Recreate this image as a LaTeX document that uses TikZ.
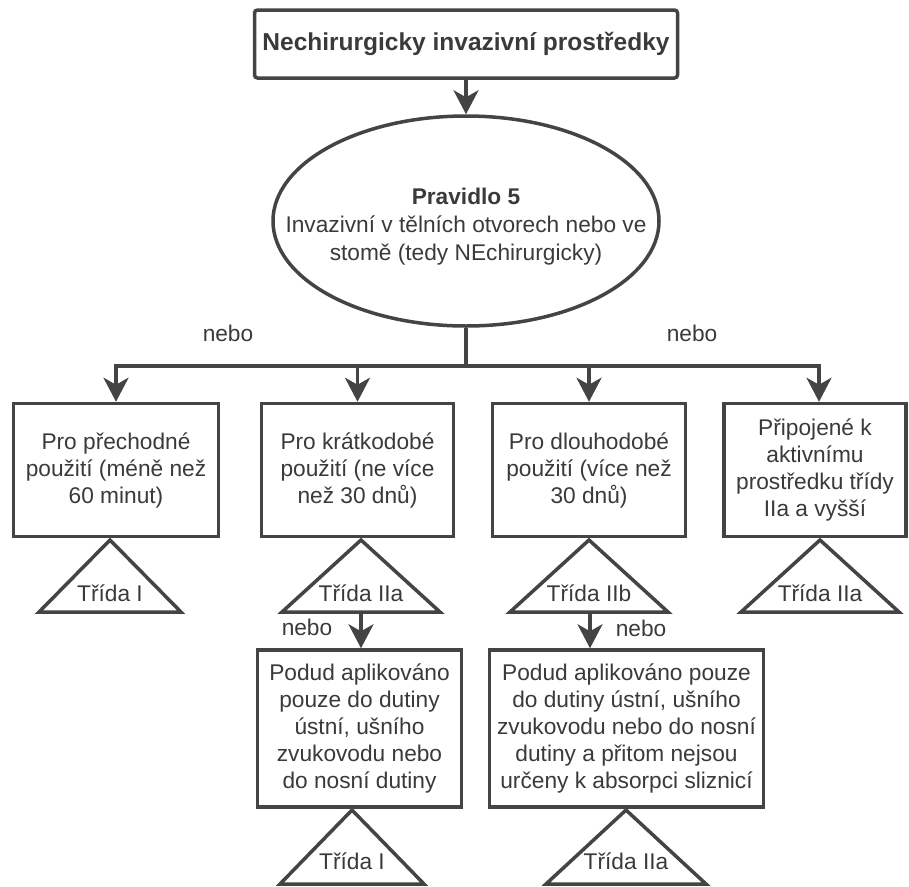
\documentclass[tikz,border=0pt]{standalone}
\usepackage{fontspec}
\setmainfont{Liberation Sans}
\usetikzlibrary{arrows.meta,shapes.geometric}
\definecolor{ink}{HTML}{444444}
\definecolor{txt}{HTML}{3A3A3A}
% name, apex x, apex y, half base, height, label drop above base, text
\newcommand\classtri[7]{%
  \path[trishape] (#2,#3) -- (#2+#4,#3+#5) -- (#2-#4,#3+#5) -- cycle;
  \coordinate (#1-base) at (#2,#3+#5);
  \node[lbl] (#1) at (#2,#3+#5-#6) {#7};}
\begin{document}
\begin{tikzpicture}[x=1pt,y=-1pt,
  line/.style={draw=ink, line width=3.5pt},
  arr/.style={line, -{Stealth[length=24pt,width=25pt,inset=7pt]}},
  txtfont/.style={font=\fontsize{22.7}{27}\selectfont},
  box/.style={line, rectangle, fill=white, align=center, text=txt, inner sep=0pt, txtfont},
  lbl/.style={text=txt, inner sep=0pt, align=center, txtfont},
  trishape/.style={line, fill=white, line join=miter}]
\useasboundingbox (0,0) rectangle (909,886);

% title and rule
\node[box, rounded corners=3pt, minimum width=423pt, minimum height=68pt,
      font=\bfseries\fontsize{24.5}{29}\selectfont] (top) at (466,44)
  {Nechirurgicky invazivní prostředky};
\node[line, ellipse, minimum width=386pt, minimum height=210pt, inner sep=0pt] (ell) at (466,221) {};
\node[lbl, font=\fontsize{22.7}{28}\selectfont] (rule) at (466,227)
  {\textbf{Pravidlo 5}\\Invazivní v tělních otvorech nebo ve\\stomě (tedy NEchirurgicky)};

% duration boxes
\node[box, minimum width=205pt, minimum height=133pt] (b1) at (116,470)
  {Pro přechodné\\použití (méně než\\60 minut)};
\node[box, minimum width=192pt, minimum height=133pt] (b2) at (357.5,470)
  {Pro krátkodobé\\použití (ne více\\než 30 dnů)};
\node[box, minimum width=193pt, minimum height=133pt] (b3) at (589,470)
  {Pro dlouhodobé\\použití (více než\\30 dnů)};
\node[box, minimum width=182pt, minimum height=133pt] (b4) at (815,470)
  {Připojené k\\aktivnímu\\prostředku třídy\\IIa a vyšší};

% exceptions
\node[box, minimum width=204pt, minimum height=157pt] (b5) at (359.5,728.5)
  {Podud aplikováno\\pouze do dutiny\\ústní, ušního\\zvukovodu nebo\\do nosní dutiny};
\node[box, minimum width=274pt, minimum height=157pt] (b6) at (626.5,728.5)
  {Podud aplikováno pouze\\do dutiny ústní, ušního\\zvukovodu nebo do nosní\\dutiny a přitom nejsou\\určeny k absorpci sliznicí};

% class triangles
\classtri{t1}{110}{540}{71}{72}{19}{Třída I}
\classtri{t2}{361}{540}{79}{72}{19}{Třída IIa}
\classtri{t3}{589}{540}{79}{72}{19}{Třída IIb}
\classtri{t4}{820}{540}{79}{72}{19}{Třída IIa}
\classtri{t5}{352}{810}{72}{74}{23}{Třída I}
\classtri{t6}{626}{810}{80}{74}{23}{Třída IIa}

% connectors
\coordinate (hub) at (466,366);
\draw[arr] (top.south) -- (ell.north);
\draw[line] (ell.south) -- (hub);
\draw[arr] (hub) -| (b1.north);
\draw[arr] (hub) -| (b2.north);
\draw[arr] (hub) -| (b3.north);
\draw[arr] (hub) -| ([xshift=4pt]b4.north);
\draw[arr] (t2-base) -- (t2-base |- b5.north);
\draw[arr] ([xshift=1pt]t3-base) -- ([xshift=1pt]t3-base |- b6.north);

% alternative labels
\node[lbl] (n1) at (228,333) {nebo};
\node[lbl] (n2) at (692,333) {nebo};
\node[lbl] (n3) at (307,627) {nebo};
\node[lbl] (n4) at (641,628) {nebo};
\end{tikzpicture}
\end{document}
